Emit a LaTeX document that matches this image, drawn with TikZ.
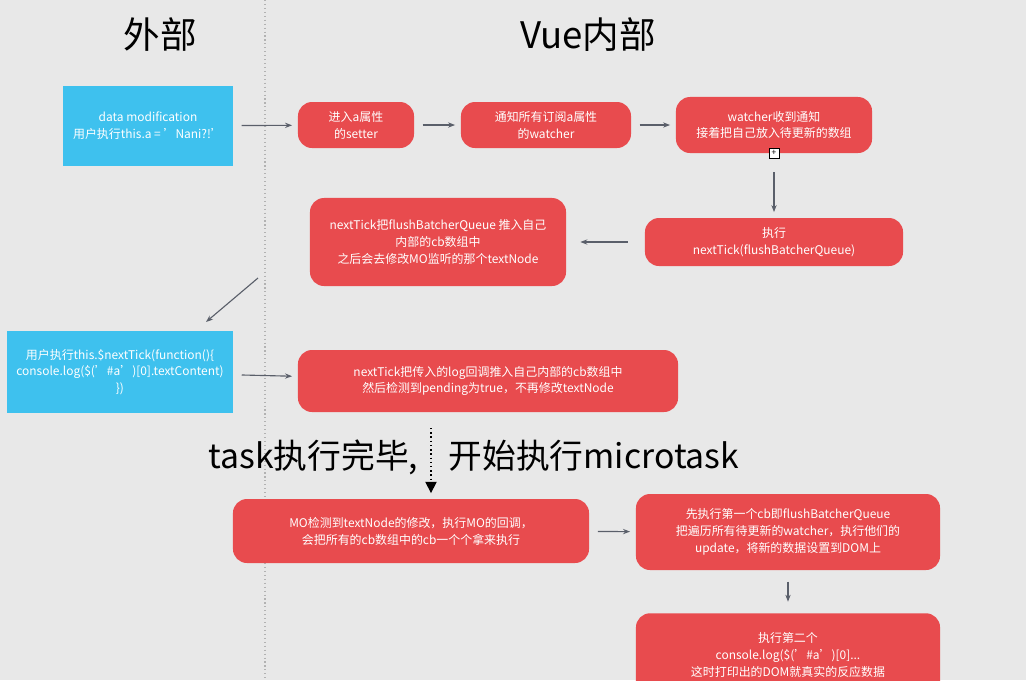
\documentclass[tikz,border=0pt]{standalone}
\usepackage{fontspec}
\setmainfont{Noto Sans CJK SC}
\usetikzlibrary{arrows.meta}
\definecolor{bgGrey}{HTML}{E8E8E8}
\definecolor{redBox}{HTML}{E84B4E}
\definecolor{blueBox}{HTML}{3EC1EE}
\definecolor{arrowGrey}{HTML}{5A5F6A}

\begin{document}
\begin{tikzpicture}[x=0.025cm, y=-0.025cm,
  red box/.style={fill=redBox, rounded corners=10pt, text=white, align=center, font=\fontsize{8.5}{12}\selectfont, inner sep=2pt},
  blue box/.style={fill=blueBox, text=white, align=center, font=\fontsize{8.5}{12}\selectfont, inner sep=2pt},
  flow/.style={arrowGrey, line width=0.8pt, shorten <=6pt, shorten >=4pt, -{Stealth[length=5pt]}}]
  \fill[bgGrey] (0,0) rectangle (1026,680);
  \useasboundingbox (0,0) rectangle (1026,680);
  \draw[gray!60, dotted, line width=0.8pt] (265,0) -- (265,680);
  \node (outside) at (160,35) {\fontsize{26}{30}\selectfont 外部};
  \node (inside) at (588,35) {\fontsize{26}{30}\selectfont Vue内部};
  % first row
  \node[blue box, minimum width=4.25cm, minimum height=2cm] (data) at (148,126) {data modification\\用户执行this.a = 'Nani?!'};
  \node[red box, minimum width=2.9cm, minimum height=1.15cm] (setter) at (356,125) {进入a属性\\的setter};
  \node[red box, minimum width=4.25cm, minimum height=1.15cm] (notify) at (546,125) {通知所有订阅a属性\\的watcher};
  \node[red box, minimum width=4.9cm, minimum height=1.4cm] (recv) at (774,125) {watcher收到通知\\接着把自己放入待更新的数组};
  \node[draw=black, fill=white, inner sep=0pt, minimum size=7pt, font=\fontsize{6}{6}\selectfont] (plus) at (774,153) {+};
  % second row
  \node[red box, minimum width=6.45cm, minimum height=1.2cm] (exec) at (774,242) {执行\\nextTick(flushBatcherQueue)};
  \node[red box, minimum width=6.4cm, minimum height=2.2cm] (tick) at (438,242) {nextTick把flushBatcherQueue 推入自己\\内部的cb数组中\\之后会去修改MO监听的那个textNode};
  % third row
  \node[blue box, minimum width=5.65cm, minimum height=2.05cm] (user) at (120,372) {用户执行this.\$nextTick(function()\{\\console.log(\$('\#a')[0].textContent)\\\})};
  \node[red box, minimum width=9.5cm, minimum height=1.55cm] (log) at (488,381) {nextTick把传入的log回调推入自己内部的cb数组中\\然后检测到pending为true，不再修改textNode};
  \node (task) at (474,457) {\fontsize{24}{28}\selectfont task执行完毕,\hspace{0.9em}开始执行microtask};
  % fourth row
  \node[red box, minimum width=8.9cm, minimum height=1.6cm] (mo) at (411,531) {MO检测到textNode的修改，执行MO的回调，\\会把所有的cb数组中的cb一个个拿来执行};
  \node[red box, minimum width=7.6cm, minimum height=1.9cm] (first) at (788,532) {先执行第一个cb即flushBatcherQueue\\把遍历所有待更新的watcher，执行他们的\\update，将新的数据设置到DOM上};
  \node[red box, minimum width=7.6cm, minimum height=2.1cm, anchor=north] (second) at (788,613) {执行第二个\\console.log(\$('\#a')[0]...\\这时打印出的DOM就真实的反应数据};
  \coordinate (dotTop) at (431,428);
  \coordinate (diagTop) at (258,278);
  \coordinate (diagEnd) at (206,322);
  % connectors
  \draw[flow] (data) -- (setter);
  \draw[flow] (setter) -- (notify);
  \draw[flow] (notify) -- (recv);
  \draw[flow, shorten <=10pt] (plus) -- (exec);
  \draw[flow, shorten <=12pt, shorten >=10pt] (exec) -- (tick);
  \draw[flow, shorten <=0pt, shorten >=0pt] (diagTop) -- (diagEnd);
  \draw[flow] (user) -- (log);
  \draw[black, dotted, line width=1pt, -{Triangle[length=8pt, width=8pt]}] (dotTop) -- ([yshift=4pt]mo.north -| dotTop);
  \draw[flow] (mo) -- (first);
  \draw[flow, shorten <=8pt, shorten >=8pt] (first) -- (second);
\end{tikzpicture}
\end{document}
